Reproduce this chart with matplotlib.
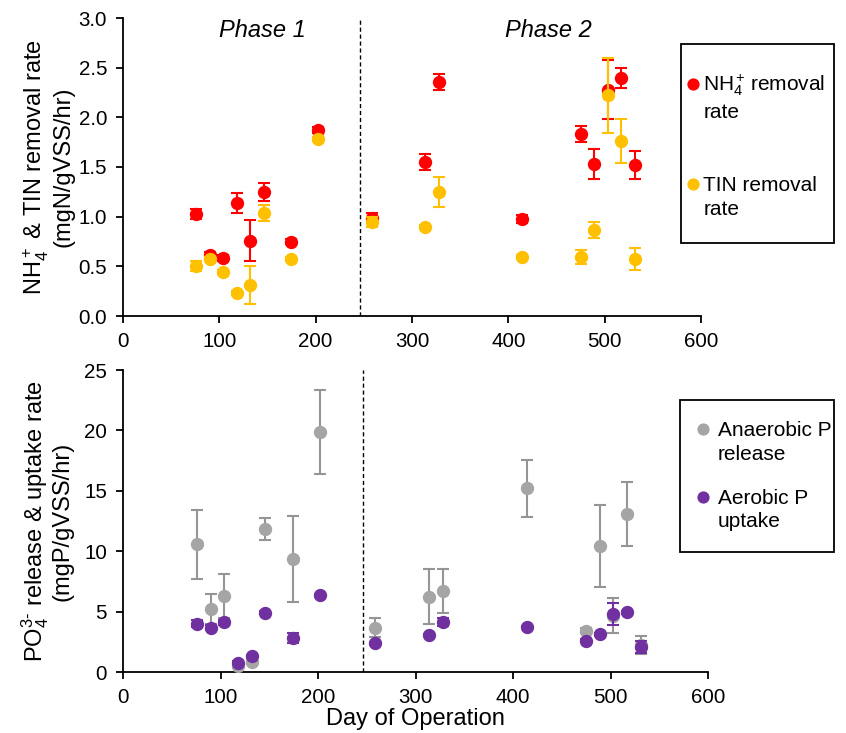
import matplotlib
matplotlib.use("Agg")
import numpy as np
import matplotlib.pyplot as plt
from matplotlib.lines import Line2D
from matplotlib.patches import Rectangle
from matplotlib.legend_handler import HandlerLine2D

plt.rcParams['font.family'] = ['Liberation Sans', 'DejaVu Sans']
plt.rcParams['mathtext.fontset'] = 'custom'
plt.rcParams['mathtext.rm'] = 'Liberation Sans'
plt.rcParams['mathtext.it'] = 'Liberation Sans:italic'

# ---- data ----
days = [76, 90, 104, 118, 132, 146, 174, 202, 258, 314, 328, 414, 475, 489, 503, 517, 531]

nh4_rate = [1.03, 0.61, 0.58, 1.14, 0.76, 1.25, 0.75, 1.87, 0.99, 1.55, 2.36, 0.98, 1.83, 1.53, 2.28, 2.40, 1.52]
nh4_err  = [0.05, 0.03, 0.03, 0.10, 0.21, 0.09, 0.03, 0.03, 0.05, 0.08, 0.08, 0.04, 0.08, 0.15, 0.30, 0.10, 0.14]

tin_rate = [0.50, 0.57, 0.44, 0.23, 0.31, 1.04, 0.57, 1.78, 0.95, 0.90, 1.25, 0.59, 0.59, 0.87, 2.22, 1.76, 0.57]
tin_err  = [0.05, 0.02, 0.02, 0.02, 0.19, 0.08, 0.02, 0.02, 0.05, 0.02, 0.15, 0.02, 0.07, 0.08, 0.38, 0.22, 0.11]

p_release     = [10.57, 5.19, 6.29, 0.50, 0.85, 11.81, 9.33, 19.9, 3.67, 6.24, 6.71, 15.23, 3.42, 10.43, 4.65, 13.10, 2.24]
p_release_err = [2.88, 1.24, 1.84, 0.2, 0.2, 0.90, 3.57, 3.48, 0.77, 2.28, 1.82, 2.36, 0.2, 3.42, 1.45, 2.65, 0.75]

p_uptake     = [4.00, 3.67, 4.11, 0.77, 1.32, 4.91, 2.79, 6.35, 2.37, 3.06, 4.14, 3.73, 2.60, 3.12, 4.83, 4.94, 2.10]
p_uptake_err = [0.30, 0.2, 0.2, 0.1, 0.1, 0.1, 0.41, 0.1, 0.1, 0.1, 0.3, 0.1, 0.1, 0.1, 0.90, 0.1, 0.50]

phase_split = 246
x_ticks = [0, 100, 200, 300, 400, 500, 600]
top_yticks = [0.0, 0.5, 1.0, 1.5, 2.0, 2.5, 3.0]
bot_yticks = [0, 5, 10, 15, 20, 25]

RED = '#FF0000'
GOLD = '#FFC000'
GRAY = '#A5A5A5'
GRAY_E = '#959595'
PURPLE = '#7030A0'

W, H = 846, 733
fig = plt.figure(figsize=(W / 100, H / 100), dpi=100)

def frac(l, r, t, b):
    return [l / W, 1 - b / H, (r - l) / W, (b - t) / H]

ax1 = fig.add_axes(frac(123, 701, 18, 316))
ax2 = fig.add_axes(frac(123, 708, 370, 672))

ms = 9.6
cs = 4.3
elw = 1.5
TICKFS = 14.8
LABFS = 17
LEGFS = 15
LEG_LS = 1.33


class FirstLineHandler(HandlerLine2D):
    """Place the marker level with the first line of a two-line label."""
    def __init__(self, offset, **kw):
        super().__init__(**kw)
        self.offset = offset

    def create_artists(self, legend, orig_handle, xdescent, ydescent,
                       width, height, fontsize, trans):
        arts = super().create_artists(legend, orig_handle, xdescent, ydescent,
                                      width, height, fontsize, trans)
        for a in arts:
            a.set_ydata(np.asarray(a.get_ydata(), dtype=float) + self.offset)
        return arts


def style(ax):
    for s in ['top', 'right']:
        ax.spines[s].set_visible(False)
    for s in ['left', 'bottom']:
        ax.spines[s].set_linewidth(1.3)
        ax.spines[s].set_color('black')
    ax.tick_params(direction='out', length=5, width=1.3, labelsize=TICKFS, colors='black', pad=6.5)
    ax.set_xlim(0, 600)
    ax.set_xticks(x_ticks)


def add_legend(ax, handles, labels, marker_x, center_y, textpad, labelspacing, box, offset):
    hl = 0.6
    hpx = hl * LEGFS * 100 / 72
    hmap = {h: FirstLineHandler(offset) for h in handles}
    leg = ax.legend(handles, labels, loc='center left',
                    bbox_to_anchor=((marker_x - hpx / 2) / W, 1 - center_y / H),
                    bbox_transform=fig.transFigure, borderaxespad=0, borderpad=0,
                    fontsize=LEGFS, handletextpad=textpad, handlelength=hl,
                    labelspacing=labelspacing, frameon=False, handler_map=hmap)
    for t in leg.get_texts():
        t.set_linespacing(LEG_LS)
    l, t_, r, b = box
    fig.patches.append(Rectangle((l / W, 1 - b / H), (r - l) / W, (b - t_) / H,
                                 transform=fig.transFigure, fill=False,
                                 edgecolor='black', linewidth=1.3))
    return leg

# Top panel
ax1.errorbar(days, nh4_rate, yerr=nh4_err, fmt='o', color=RED, ms=ms, mec='none',
             elinewidth=elw, capsize=cs, capthick=elw, zorder=3)
ax1.errorbar(days, tin_rate, yerr=tin_err, fmt='o', color=GOLD, ms=ms, mec='none',
             elinewidth=elw, capsize=cs, capthick=elw, zorder=4)
ax1.axvline(phase_split, color='black', lw=1, ls=(0, (3, 2)), zorder=1)
style(ax1)
ax1.set_ylim(0, 3.0)
ax1.set_yticks(top_yticks)
ax1.set_yticklabels([f'{v:.1f}' for v in top_yticks])
ax1.text(145, 2.875, 'Phase 1', style='italic', fontsize=LABFS, ha='center', va='center')
ax1.text(442, 2.875, 'Phase 2', style='italic', fontsize=LABFS, ha='center', va='center')
ax1.set_ylabel('NH$_4^+$ & TIN removal rate\n(mgN/gVSS/hr)', fontsize=LABFS, linespacing=1.05)
ax1.yaxis.set_label_coords((74 - 123) / 578, 0.5)

hm1 = Line2D([], [], ls='none', marker='o', ms=8.8, color=RED, mec='none')
hm2 = Line2D([], [], ls='none', marker='o', ms=8.8, color=GOLD, mec='none')
add_legend(ax1, [hm1, hm2], ['NH$_4^+\\,$removal\nrate', 'TIN removal\nrate'],
           693, 146, 0.2, 2.6, (681, 44, 834, 243), 10.0)

# Bottom panel
ax2.errorbar(days, p_release, yerr=p_release_err, fmt='o', color=GRAY, ecolor=GRAY_E, ms=ms, mec='none',
             elinewidth=elw, capsize=cs, capthick=elw, zorder=3)
ax2.errorbar(days, p_uptake, yerr=p_uptake_err, fmt='o', color=PURPLE, ms=ms, mec='none',
             elinewidth=elw, capsize=cs, capthick=elw, zorder=4)
ax2.axvline(phase_split, color='black', lw=1, ls=(0, (3, 2)), zorder=1)
style(ax2)
ax2.set_ylim(0, 25)
ax2.set_yticks(bot_yticks)
ax2.set_ylabel('PO$_4^{3\\text{-}}$ release & uptake rate\n(mgP/gVSS/hr)', fontsize=LABFS, linespacing=1.05)
ax2.yaxis.set_label_coords((74 - 123) / 585, 0.5)
ax2.set_xlabel('Day of Operation', fontsize=LABFS, labelpad=1)

hm3 = Line2D([], [], ls='none', marker='o', ms=8.8, color=GRAY, mec='none')
hm4 = Line2D([], [], ls='none', marker='o', ms=8.8, color=PURPLE, mec='none')
add_legend(ax2, [hm3, hm4], ['Anaerobic P\nrelease', 'Aerobic P\nuptake'],
           703, 476, 0.42, 1.2, (680, 400, 834, 552), 9.3)

fig.savefig('out.png', dpi=100)
